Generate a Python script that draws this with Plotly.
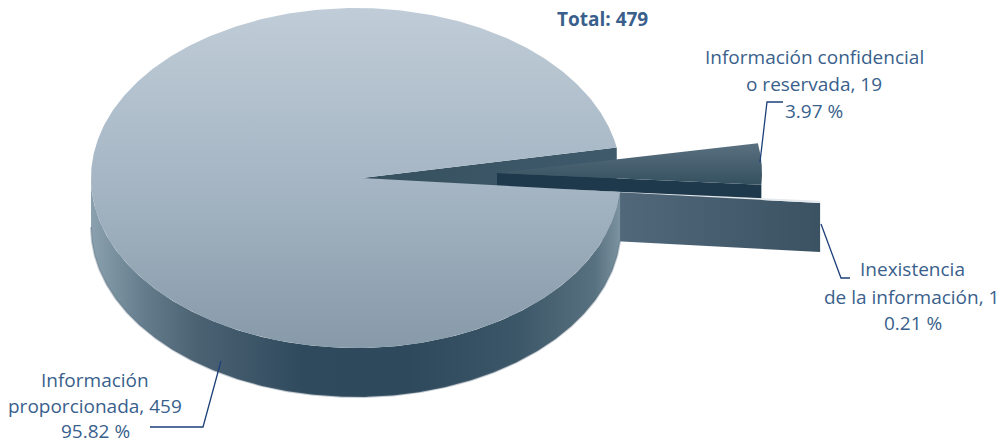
import numpy as np
import plotly.graph_objects as go

# ---- data ----
categories = ["Información proporcionada", "Información confidencial o reservada", "Inexistencia de la información"]
values = [459, 19, 1]
percent_labels = ["95.82 %", "3.97 %", "0.21 %"]
total_label = "Total: 479"

# ---- styling / geometry of the drawing ----
W, H = 1006, 445
CX, CY, RX, RY = 356, 178, 265, 170
DEPTH = 49
START_DEG = 10.3
APEX_CONF = (497, 173)
APEX_INEX = (556, 189)
TIP = (362, 178)
TEXT = "#3a5f8c"
LEADER = "#1c4079"
FONT = "Open Sans"
FS = 19

total = sum(values)
sweep = [v / total * 360 for v in values]
a_conf = (START_DEG, START_DEG - sweep[1])
a_inex = (a_conf[1], a_conf[1] - sweep[2])
a_main = (a_inex[1], a_inex[1] - sweep[0])


def arc(cx, cy, a0, a1, n=200):
    t = np.radians(np.linspace(a0, a1, n))
    return cx + RX * np.cos(t), cy - RY * np.sin(t)


fig = go.Figure()


def poly(x, y, colors=None, kind="vertical", start=None, stop=None, solid=None, line=None):
    kw = dict(x=list(x), y=list(y), mode="lines", fill="toself", hoverinfo="skip", showlegend=False)
    kw["line"] = line or dict(width=0, color="rgba(0,0,0,0)")
    if colors:
        kw["fillgradient"] = dict(type=kind, colorscale=colors, start=start, stop=stop)
    else:
        kw["fillcolor"] = solid
    fig.add_trace(go.Scatter(**kw))


# cut face of the main slice visible in the notch
ux, uy = arc(CX, CY, START_DEG, START_DEG, 1)
poly([TIP[0], ux[0], ux[0], TIP[0]], [TIP[1], uy[0], uy[0] + DEPTH, TIP[1] + DEPTH],
     colors=[[0, "#36505f"], [1, "#3f5a6b"]], kind="horizontal", start=TIP[0], stop=ux[0])

# confidencial: lower cut wall, top face
cx, cy = arc(*APEX_CONF, *a_conf)
poly([APEX_CONF[0], cx[-1], cx[-1], APEX_CONF[0]],
     [APEX_CONF[1], cy[-1], cy[-1] + DEPTH, APEX_CONF[1] + DEPTH], solid="#1e394b")
poly(np.r_[APEX_CONF[0], cx], np.r_[APEX_CONF[1], cy],
     colors=[[0, "#5b7181"], [1, "#34505f"]], start=cy.min(), stop=cy.max())

# inexistencia: cut wall and sliver top
ix, iy = arc(*APEX_INEX, *a_inex)
poly([APEX_INEX[0], ix[-1], ix[-1], APEX_INEX[0]],
     [APEX_INEX[1], iy[-1], iy[-1] + DEPTH, APEX_INEX[1] + DEPTH],
     colors=[[0, "#51687a"], [1, "#3a5262"]], kind="horizontal", start=620, stop=ix[-1])
poly(np.r_[APEX_INEX[0], ix], np.r_[APEX_INEX[1], iy], solid="#e4e9ed")

# main slice outer wall (front part of the rim)
wx, wy = arc(CX, CY, a_main[0], -180, 300)
poly(np.r_[wx, wx[::-1]], np.r_[wy + DEPTH, wy[::-1]],
     colors=[[0, "#8ba1af"], [0.1, "#647c8c"], [0.2, "#4b6273"], [0.4, "#2f4a5d"],
             [0.6, "#2e495c"], [0.8, "#3b5667"], [0.95, "#587180"], [1, "#7d94a2"]],
     kind="horizontal", start=CX - RX, stop=CX + RX)
fig.add_trace(go.Scatter(x=list(wx), y=list(wy + DEPTH), mode="lines", hoverinfo="skip", showlegend=False,
                         line=dict(color="rgba(90,110,125,0.35)", width=2)))

# main slice top face
mx, my = arc(CX, CY, a_main[0], a_main[1], 500)
poly(np.r_[TIP[0], mx], np.r_[TIP[1], my],
     colors=[[0, "#c0cdd8"], [0.5, "#a6b6c4"], [1, "#879aa9"]], start=CY - RY, stop=CY + RY)

# leader lines
leaders = [
    ([221, 203, 150], [361, 427, 427]),
    ([760, 767, 783], [162, 102, 102]),
    ([821, 841, 850], [224, 278, 278]),
]
for lx, ly in leaders:
    fig.add_trace(go.Scatter(x=lx, y=ly, mode="lines", hoverinfo="skip", showlegend=False,
                             line=dict(color=LEADER, width=1.3)))

# text
text_lines = [
    ("Información", 95, 380), ("proporcionada, 459", 95, 406), (percent_labels[0], 95, 431),
    ("Información confidencial", 814, 57), ("o reservada, 19", 814, 84), (percent_labels[1], 814, 111),
    ("Inexistencia", 912, 269), ("de la información, 1", 911, 297), (percent_labels[2], 913, 323),
]
for t, x, y in text_lines:
    fig.add_annotation(x=x, y=y, text=t, showarrow=False, xanchor="center", yanchor="middle",
                       font=dict(family=FONT, size=FS, color=TEXT))
fig.add_annotation(x=602, y=19, text=f"<b>{total_label}</b>", showarrow=False, xanchor="center",
                   yanchor="middle", font=dict(family=FONT, size=19, color=TEXT))

fig.update_layout(width=W, height=H, margin=dict(l=0, r=0, t=0, b=0),
                  paper_bgcolor="white", plot_bgcolor="white", showlegend=False,
                  xaxis=dict(range=[0, W], visible=False, fixedrange=True),
                  yaxis=dict(range=[H, 0], visible=False, fixedrange=True))
fig.write_html("out.html", config=dict(displayModeBar=False),
               post_script="document.body.style.margin='0';document.body.style.overflow='hidden';")
